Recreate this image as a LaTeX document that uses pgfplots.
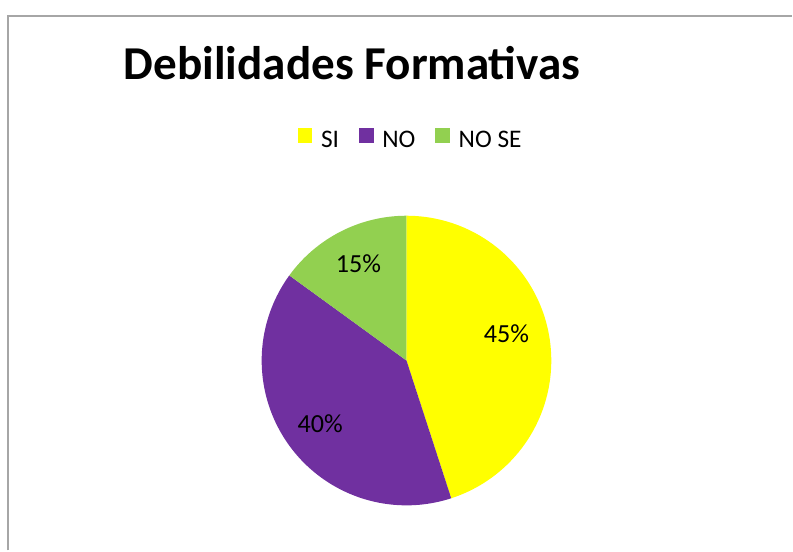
\documentclass[border=0pt]{standalone}
\usepackage{pgfplots}
\pgfplotsset{compat=1.18}
\usepackage{fontspec}
\setmainfont{Carlito}
\definecolor{siyellow}{HTML}{FFFF00}
\definecolor{nopurple}{HTML}{7030A0}
\definecolor{nsgreen}{HTML}{92D050}
\definecolor{framegray}{HTML}{A6A6A6}
% values (percent)
\def\vSI{45}
\def\vNO{40}
\def\vNS{15}
\pgfmathsetmacro{\aA}{90}
\pgfmathsetmacro{\aB}{90-3.6*\vSI}
\pgfmathsetmacro{\aC}{\aB-3.6*\vNO}
\pgfmathsetmacro{\aD}{\aC-3.6*\vNS}
\begin{document}
\begin{tikzpicture}
\begin{axis}[
  x=0.75pt, y=0.75pt,
  xmin=0, xmax=793, ymin=0, ymax=551,
  hide axis, clip=false,
  legend columns=-1,
  legend style={at={(axis cs:411.5,411)}, anchor=center, draw=none, fill=none,
    font=\fontsize{19}{21}\selectfont, inner sep=0pt,
    /tikz/every odd column/.append style={column sep=4.5pt},
    /tikz/every even column/.append style={column sep=13pt}},
  legend image code/.code={\fill[#1] (0pt,-2.5pt) rectangle (11pt,8.5pt);},
]
\addplot[fill=siyellow, draw=none, domain=\aB:\aA, samples=90, variable=\t]
  ({407+145*cos(\t)},{190+145*sin(\t)}) -- (axis cs:407,190) -- cycle;
\addlegendentry{SI}
\addplot[fill=nopurple, draw=none, domain=\aC:\aB, samples=90, variable=\t]
  ({407+145*cos(\t)},{190+145*sin(\t)}) -- (axis cs:407,190) -- cycle;
\addlegendentry{NO}
\addplot[fill=nsgreen, draw=none, domain=\aD:\aC, samples=40, variable=\t]
  ({407+145*cos(\t)},{190+145*sin(\t)}) -- (axis cs:407,190) -- cycle;
\addlegendentry{NO SE}
\node[anchor=base, font=\fontsize{19.6}{21}\selectfont] at (axis cs:507,208) {\vSI\%};
\node[anchor=base, font=\fontsize{19.6}{21}\selectfont] at (axis cs:320.5,118) {\vNO\%};
\node[anchor=base, font=\fontsize{19.6}{21}\selectfont] at (axis cs:359,278) {\vNS\%};
\node[anchor=base, font=\bfseries\fontsize{35.4}{40}\selectfont] at (axis cs:352.5,471) {Debilidades Formativas};
\draw[framegray, line width=1.5pt] (axis cs:8,0) -- (axis cs:8,535) -- (axis cs:793,535);
\end{axis}
\path[use as bounding box] (0,0) rectangle (594.75pt,413.25pt);
\end{tikzpicture}
\end{document}
